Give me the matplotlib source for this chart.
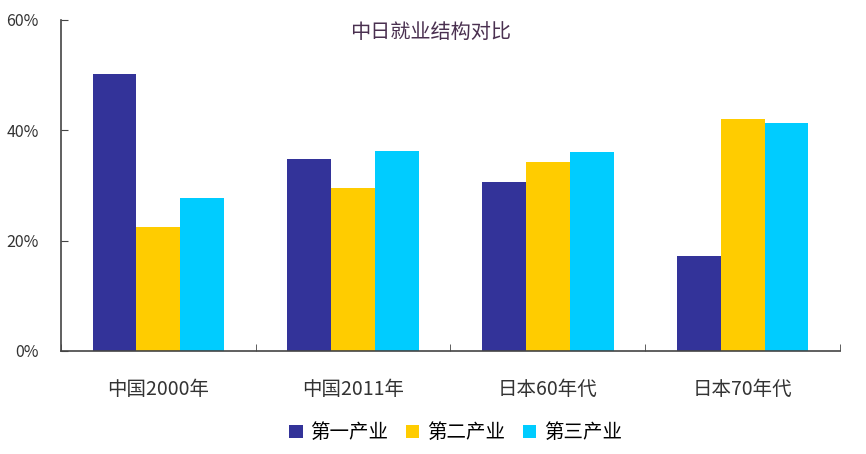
import matplotlib.pyplot as plt
import numpy as np
from matplotlib.ticker import FixedLocator, NullFormatter

plt.rcParams['font.family'] = ['Noto Sans CJK SC', 'DejaVu Sans']

categories = ['中国2000年', '中国2011年', '日本60年代', '日本70年代']
series_names = ['第一产业', '第二产业', '第三产业']
primary = [50.2, 34.8, 30.6, 17.3]
secondary = [22.5, 29.6, 34.3, 42.0]
tertiary = [27.8, 36.2, 36.1, 41.4]
colors = ['#333399', '#FFCC00', '#00CCFF']
yticks = [0, 20, 40, 60]
ytick_labels = ['0%', '20%', '40%', '60%']

fig = plt.figure(figsize=(8.66, 4.54), dpi=100)
ax = fig.add_axes([0.0704, 0.2269, 0.8996, 0.7291])

x = np.arange(len(categories))
w = 0.225
for k, (vals, name) in enumerate(zip([primary, secondary, tertiary], series_names)):
    ax.bar(x + (k - 1) * w, vals, width=w, color=colors[k], label=name, linewidth=0)

ax.set_xlim(-0.5, len(categories) - 0.5)
ax.set_ylim(0, 60)
ax.set_yticks(yticks)
ax.set_yticklabels(ytick_labels, fontsize=11.5, color='#333333')
ax.set_xticks(x)
ax.set_xticklabels(categories, fontsize=14, color='#333333')
ax.tick_params(axis='x', which='major', length=0, pad=20)
ax.xaxis.set_minor_locator(FixedLocator(np.arange(-0.5, len(categories), 1.0)))
ax.xaxis.set_minor_formatter(NullFormatter())
ax.tick_params(axis='x', which='minor', direction='in', length=5, color='#444444')
ax.tick_params(axis='y', direction='in', length=5, color='#444444', pad=16)

for s in ['top', 'right']:
    ax.spines[s].set_visible(False)
for s in ['left', 'bottom']:
    ax.spines[s].set_color('#444444')
    ax.spines[s].set_linewidth(1.2)

ax.text(0.474, 0.995, '中日就业结构对比', transform=ax.transAxes, ha='center', va='top',
        fontsize=14.5, color='#4a3050')

fig.legend(loc='lower center', bbox_to_anchor=(0.526, -0.015), ncol=3, frameon=False,
           fontsize=14, handlelength=0.7, handleheight=0.7, handletextpad=0.4,
           columnspacing=0.9)

plt.savefig('out.png', dpi=100)
